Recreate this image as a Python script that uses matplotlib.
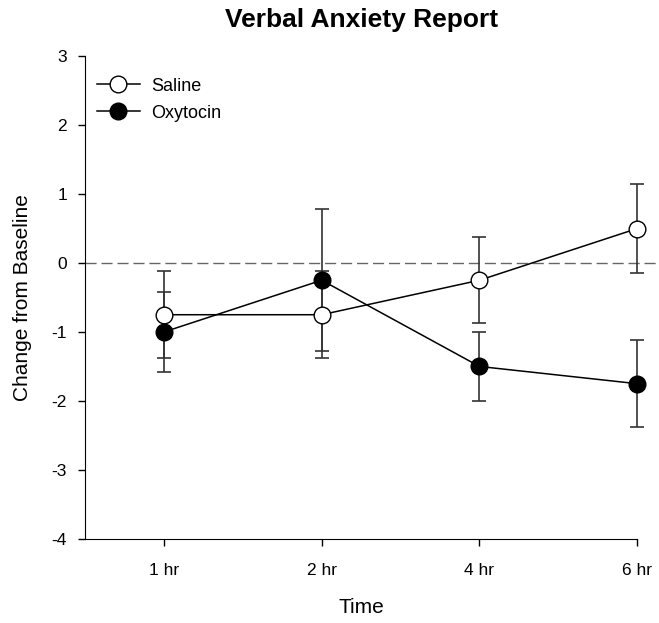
import matplotlib.pyplot as plt

plt.rcParams['font.family'] = ['Liberation Sans', 'DejaVu Sans']
plt.rcParams['axes.unicode_minus'] = False

times = ['1 hr', '2 hr', '4 hr', '6 hr']
saline = [-0.75, -0.75, -0.25, 0.5]
saline_err = [0.63, 0.63, 0.62, 0.64]
oxytocin = [-1.0, -0.25, -1.5, -1.75]
oxytocin_err = [0.58, 1.03, 0.5, 0.63]

x = range(1, len(times) + 1)

fig = plt.figure(figsize=(6.59, 6.23), dpi=100)
ax = fig.add_axes([0.129, 0.135, 0.838, 0.775])

ax.axhline(0, xmin=0, xmax=1.04, color='#666666', lw=1, ls=(0, (8, 3.5)), clip_on=False, zorder=1)

for vals, errs in [(saline, saline_err), (oxytocin, oxytocin_err)]:
    eb = ax.errorbar(x, vals, yerr=errs, fmt='none', ecolor='#333333', elinewidth=1.2,
                     capsize=5, capthick=1.2, zorder=2)
    for art in eb.lines[1] + eb.lines[2]:
        art.set_clip_on(False)

ax.plot(x, saline, color='black', lw=1.1, marker='o', ms=12, mfc='white', mec='black', mew=1,
        label='Saline', zorder=3, clip_on=False)
ax.plot(x, oxytocin, color='black', lw=1.1, marker='o', ms=12, mfc='black', mec='black', mew=1,
        label='Oxytocin', zorder=4, clip_on=False)

ax.set_xlim(0.5, 4)
ax.set_ylim(-4, 3)
ax.set_xticks(list(x))
ax.set_xticklabels(times)
ax.set_yticks(range(-4, 4))
ax.tick_params(direction='out', length=5, labelsize=12.5, width=1)
ax.tick_params(axis='x', pad=12)
ax.tick_params(axis='y', pad=8)
ax.spines['top'].set_visible(False)
ax.spines['right'].set_visible(False)

ax.set_title('Verbal Anxiety Report', fontsize=19, fontweight='bold', pad=21)
ax.set_xlabel('Time', fontsize=15, labelpad=15)
ax.set_ylabel('Change from Baseline', fontsize=15, labelpad=14)

ax.legend(loc='upper left', frameon=False, fontsize=13, handlelength=2.4, handletextpad=0.6,
          borderaxespad=0.2, borderpad=0.6, labelspacing=0.55, bbox_to_anchor=(-0.005, 0.985))

fig.savefig('out.png', dpi=100)
